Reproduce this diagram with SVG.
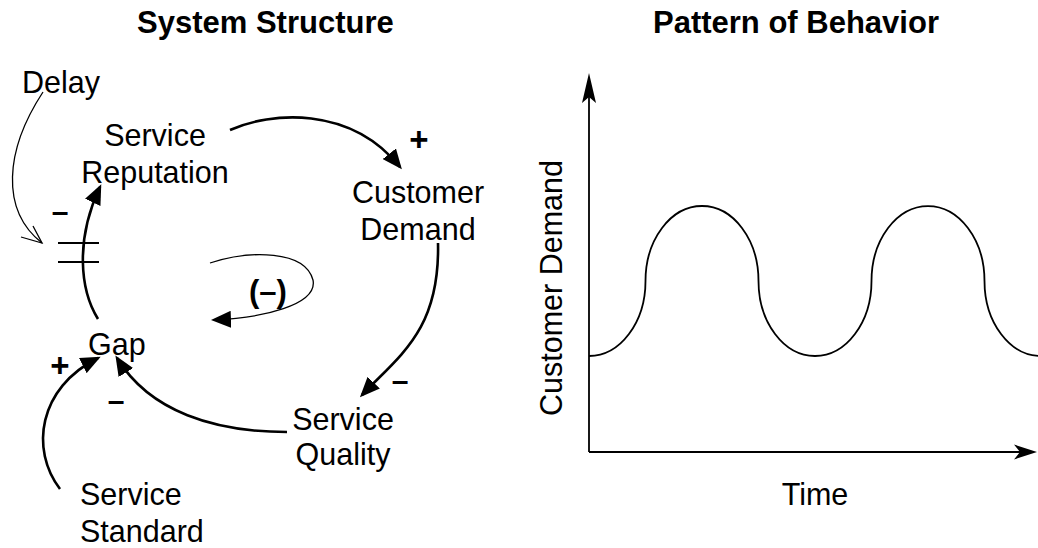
<svg xmlns="http://www.w3.org/2000/svg" width="1038" height="548" viewBox="0 0 1038 548">
<style>
text{font-family:"Liberation Sans",Arial,sans-serif;fill:#000}
.lbl{font-size:30.5px}
.ttl{font-size:31px;font-weight:bold}
.sgn{font-size:30px;font-weight:bold;text-anchor:middle}
.pls{font-size:33px;font-weight:bold;text-anchor:middle}
.mid{text-anchor:middle}
.link{fill:none;stroke:#000;stroke-width:2.6;marker-end:url(#ah)}
.thin{fill:none;stroke:#000;stroke-width:1.3}
.axis{fill:none;stroke:#000;stroke-width:1.8}
</style>
<defs>
<marker id="ah" viewBox="0 0 20 17" refX="17" refY="8.5" markerWidth="20" markerHeight="17" markerUnits="userSpaceOnUse" orient="auto">
<path d="M0,0 L20,8.5 L0,17 Z" fill="#000"/>
</marker>
</defs>
<g id="titles">
<text class="ttl" x="137" y="33">System Structure</text>
<text class="ttl" x="653" y="33">Pattern of Behavior</text>
</g>
<g id="connectors">
<path class="link" d="M230,130 C270,112 350,105 400,167"/>
<path class="link" d="M438,243 C440,330 400,355 362,395"/>
<path class="link" d="M287,432 C215,432 150,412 117,358"/>
<path class="link" d="M60,489 C30,450 38,388 98,358"/>
<path class="link" d="M98,319 C80,290 75,240 100,187"/>
<path class="thin" d="M43,92 C5,150 0,210 42,243"/>
<path class="thin" d="M21,237 L42,243 L33,226"/>
<path class="thin" d="M210,263 C250,250 305,250 313,280 C318,305 262,318 214,320" marker-end="url(#ah)"/>
<path d="M58,243 H99 M58,262 H99" stroke="#000" stroke-width="2" fill="none"/>
</g>
<g id="delay"><text class="lbl" x="22" y="93">Delay</text></g>
<g id="service-reputation"><text class="lbl mid" x="155" y="146">Service</text><text class="lbl mid" x="155" y="183">Reputation</text></g>
<g id="customer-demand"><text class="lbl mid" x="418" y="203">Customer</text><text class="lbl mid" x="418" y="240">Demand</text></g>
<g id="gap"><text class="lbl" x="88" y="355">Gap</text></g>
<g id="service-quality"><text class="lbl mid" x="343" y="430">Service</text><text class="lbl mid" x="343" y="465">Quality</text></g>
<g id="service-standard"><text class="lbl" x="80" y="505">Service</text><text class="lbl" x="80" y="542">Standard</text></g>
<g id="signs">
<text class="pls" x="419" y="151">+</text>
<text class="pls" x="60" y="377">+</text>
<text class="sgn" x="60" y="222">–</text>
<text class="sgn" x="116" y="411">–</text>
<text class="sgn" x="400" y="391">–</text>
<text class="ttl mid" x="268" y="302">(–)</text>
</g>
<g id="chart">
<path class="axis" d="M589,452 V96"/>
<path d="M589,73 L596,103 L589,97 L582,103 Z" fill="#000"/>
<path class="axis" d="M589,452 H1022"/>
<path d="M1037,452 L1014,444.5 L1020,452 L1014,459.5 Z" fill="#000"/>
<path fill="none" stroke="#000" stroke-width="1.8" d="M589,356 A56.5,75 0 0 0 645.5,281 A56.5,75 0 0 1 758.5,281 A56.5,75 0 0 0 871.5,281 A56.5,75 0 0 1 984.5,281 A56.5,75 0 0 0 1041,356"/>
<text class="lbl mid" x="815" y="505">Time</text>
<text class="lbl mid" transform="translate(562,288) rotate(-90)">Customer Demand</text>
</g>
</svg>
